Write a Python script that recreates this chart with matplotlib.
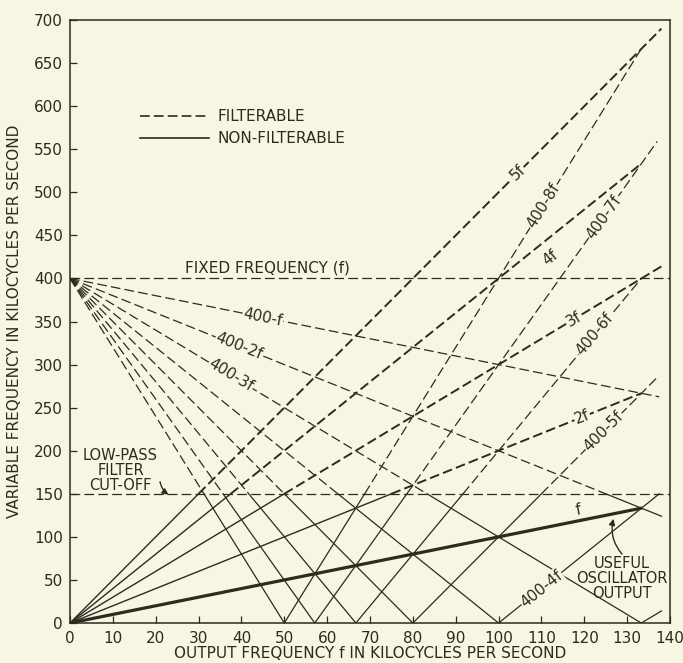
import numpy as np
import matplotlib
matplotlib.use("Agg")
import matplotlib.pyplot as plt
from matplotlib.lines import Line2D

BG = "#f7f6e2"
INK = "#2b2b1f"
CUTOFF = 150

# harmonics n*f : vertices (x, y)
harm_names = ["f", "2f", "3f", "4f", "5f"]
harm_x = [[0, 133.3], [0, 75, 133.3], [0, 50, 138], [0, 37.5, 133.3], [0, 30, 138]]
harm_y = [[0, 133.3], [0, 150, 266.7], [0, 150, 414], [0, 150, 533.3], [0, 150, 690]]

# difference products |400 - n*f|
mix_names = ["400-f", "400-2f", "400-3f", "400-4f", "400-5f", "400-6f", "400-7f", "400-8f"]
mix_x = [[0, 137.5], [0, 125, 138], [0, 83.3, 133.3, 138], [0, 62.5, 100, 137.5],
         [0, 50, 80, 110, 137], [0, 41.7, 66.7, 91.7, 133.3],
         [0, 35.7, 57.1, 78.6, 137], [0, 31.25, 50, 68.75, 133.3]]
mix_y = [[400, 262.5], [400, 150, 124], [400, 150, 0, 14], [400, 150, 0, 150],
         [400, 150, 0, 150, 285], [400, 150, 0, 150, 400],
         [400, 150, 0, 150, 559], [400, 150, 0, 150, 666.7]]

fixed_freq = 400
x_ticks = list(range(0, 141, 10))
y_ticks = list(range(0, 701, 50))

# label spots (x, y, slope, mask line behind?)
harm_lab = {"5f": (104.5, 522.5, 5, True), "4f": (112, 424, 4, False),
            "3f": (117.5, 352.5, 3, True), "2f": (119.5, 239, 2, True),
            "f": (118.5, 131, 1, False)}
mix_lab = {"400-f": (45, 355, -1, True), "400-2f": (39.5, 321, -2, True),
           "400-3f": (37.5, 287.5, -3, True), "400-4f": (110, 40, 4, True),
           "400-5f": (124.5, 222.5, 5, True), "400-6f": (122.5, 335, 6, True),
           "400-7f": (124.5, 471.5, 7, True), "400-8f": (110.5, 484, 8, True)}

plt.rcParams.update({"font.family": "DejaVu Sans", "lines.scale_dashes": False})

fig = plt.figure(figsize=(6.83, 6.63), dpi=100, facecolor=BG)
ax = fig.add_axes([0.1025, 0.0603, 0.8785, 0.9095], facecolor=BG)

DASH = (0, (7, 3))


def draw_path(xs, ys, lw_dash, lw_solid):
    for i in range(len(xs) - 1):
        above = min(ys[i], ys[i + 1]) >= CUTOFF - 0.01
        if above:
            ax.plot(xs[i:i + 2], ys[i:i + 2], color=INK, lw=lw_dash, linestyle=DASH,
                    dash_capstyle="butt")
        else:
            ax.plot(xs[i:i + 2], ys[i:i + 2], color=INK, lw=lw_solid, linestyle="-")


for name, xs, ys in zip(harm_names, harm_x, harm_y):
    if name == "f":
        ax.plot(xs, ys, color=INK, lw=2.3, solid_capstyle="round")
    else:
        draw_path(xs, ys, 1.4, 1.0)

for name, xs, ys in zip(mix_names, mix_x, mix_y):
    draw_path(xs, ys, 0.9, 0.9)

# fixed frequency and low-pass cut-off
ax.plot([0, 140], [fixed_freq, fixed_freq], color=INK, lw=0.9, linestyle=DASH)
ax.plot([0, 140], [CUTOFF, CUTOFF], color=INK, lw=0.9, linestyle=DASH)

for name, (lx, ly, s, mask) in list(harm_lab.items()) + list(mix_lab.items()):
    box = dict(facecolor=BG, edgecolor="none", pad=0.5) if mask else None
    ax.text(lx, ly, name, fontsize=11, color=INK, ha="center", va="center",
            rotation=np.degrees(np.arctan(s)), transform_rotates_text=True,
            rotation_mode="anchor", bbox=box, zorder=5)

ax.text(46, 412, "FIXED FREQUENCY (f)", fontsize=11, color=INK, ha="center", va="center")

ax.text(11.8, 176.5, "LOW-PASS\nFILTER\nCUT-OFF", fontsize=10.5, color=INK, ha="center",
        va="center", linespacing=1.0)
ax.annotate("", xy=(23.0, 149), xytext=(21.0, 164),
            arrowprops=dict(arrowstyle="-|>", color=INK, lw=1.0, mutation_scale=9,
                            shrinkA=0, shrinkB=0, connectionstyle="arc3,rad=0.2"))

ax.text(128.8, 52, "USEFUL\nOSCILLATOR\nOUTPUT", fontsize=10.5, color=INK, ha="center",
        va="center", linespacing=1.0)
ax.annotate("", xy=(126.8, 121), xytext=(128.8, 80),
            arrowprops=dict(arrowstyle="-|>", color=INK, lw=1.0, mutation_scale=9,
                            shrinkA=0, shrinkB=0, connectionstyle="arc3,rad=-0.25"))

handles = [Line2D([], [], color=INK, lw=1.2, linestyle=(0, (7, 3))),
           Line2D([], [], color=INK, lw=1.2)]
ax.legend(handles, ["FILTERABLE", "NON-FILTERABLE"], loc="upper left",
          bbox_to_anchor=(0.117, 0.852), frameon=False, fontsize=11,
          handlelength=4.5, handletextpad=0.55, labelspacing=0.45,
          borderpad=0, borderaxespad=0, labelcolor=INK)

ax.set_xlim(0, 140)
ax.set_ylim(0, 700)
ax.set_xticks(x_ticks)
ax.set_yticks(y_ticks)
ax.tick_params(direction="in", length=5, width=0.9, colors=INK, labelsize=11,
               top=False, right=False)
ax.tick_params(axis="x", pad=6)
ax.tick_params(axis="y", pad=5)
for sp in ax.spines.values():
    sp.set_color(INK)
    sp.set_linewidth(1.1)

ax.set_xlabel("OUTPUT FREQUENCY f IN KILOCYCLES PER SECOND", fontsize=11,
              color=INK, labelpad=0)
ax.set_ylabel("VARIABLE FREQUENCY IN KILOCYCLES PER SECOND", fontsize=11,
              color=INK, labelpad=9)

fig.savefig("out.png", dpi=100, facecolor=BG)
